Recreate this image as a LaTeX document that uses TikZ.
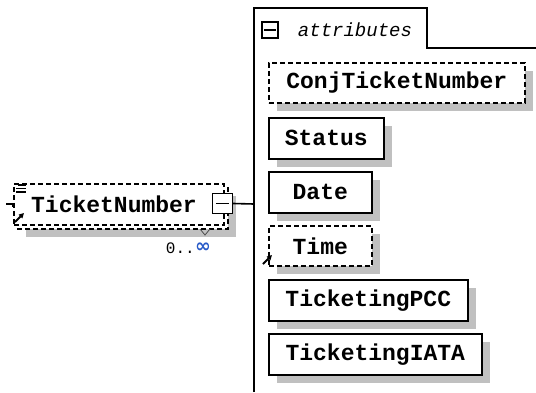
\documentclass[tikz,border=0pt]{standalone}
\usepackage{fontspec}
\setmonofont{Liberation Mono}
\newfontfamily\symfont{DejaVu Sans}
\usetikzlibrary{shadows,arrows.meta}
\definecolor{shadowc}{RGB}{192,192,192}
\definecolor{infblue}{RGB}{40,90,200}
\begin{document}
\begin{tikzpicture}[x=1pt,y=-1pt,
  boxline/.style={draw=black, line width=1.6pt},
  dashline/.style={boxline, dash pattern=on 5pt off 3pt},
  shadowed/.style={drop shadow={shadow xshift=8pt, shadow yshift=-8pt, fill=shadowc, opacity=1}},
  elem/.style={boxline, fill=white, shadowed, anchor=north west, inner sep=0pt,
    font=\ttfamily\bfseries\fontsize{23}{23}\selectfont},
  optelem/.style={elem, dash pattern=on 5pt off 3pt},
  lbl/.style={inner sep=0pt, font=\ttfamily\bfseries\fontsize{23}{23}\selectfont},
  minusbox/.style={draw=black, line width=1.4pt, fill=white, inner sep=0pt},
  icon/.style={line width=1.2pt, black},
  refarrow/.style={line width=1.8pt, -{Triangle[length=5pt,width=5pt]}},
]
\useasboundingbox (0,0) rectangle (536,392);

% attributes panel
\draw[boxline] (254,392) -- (254,8) -- (427,8) -- (427,48) -- (536,48);
\coordinate (pl) at (254,204);
\node[minusbox, minimum size=16pt] (attrminus) at (270,30) {};
\draw[line width=1.4pt] ([xshift=3pt]attrminus.west) -- ([xshift=-3pt]attrminus.east);
\node[inner sep=0pt, font=\ttfamily\itshape\fontsize{19}{19}\selectfont] (attrlbl) at (355,30) {attributes};

% attribute elements
\node[optelem, minimum width=256pt, minimum height=40pt] (conj) at (268,62) {ConjTicketNumber};
\node[elem, minimum width=115pt, minimum height=41pt] (status) at (268,117) {Status};
\node[elem, minimum width=103pt, minimum height=41pt] (date) at (268,171) {Date};
\node[optelem, minimum width=103pt, minimum height=40pt] (time) at (268,225) {Time};
\node[elem, minimum width=199pt, minimum height=41pt] (pcc) at (268,279) {TicketingPCC};
\node[elem, minimum width=213pt, minimum height=41pt] (iata) at (268,333) {TicketingIATA};
\draw[refarrow] (263,264) -- (272,255);

% TicketNumber element (multiple occurrence: back copy + front box)
\draw[dashline, fill=white, shadowed] (18,188) rectangle (228,229);
\node[dashline, fill=white, anchor=north west, minimum width=210pt, minimum height=41pt, inner sep=0pt] (tnbox) at (13,183) {};
\node[lbl] (tn) at (114,204) {TicketNumber};
\draw[icon] (18,185) -- (26,185) (16,188.5) -- (26,188.5) (16,192) -- (26,192);
\draw[refarrow] (15,222) -- (24,213);
\draw[line width=0.8pt, black!70] (200,229) -- (205,235) -- (210,229);

% collapse box and connector
\node[minusbox, minimum size=20pt] (tnminus) at (222.5,203.5) {};
\draw[line width=1.4pt] ([xshift=4pt]tnminus.west) -- ([xshift=-4pt]tnminus.east);
\draw[boxline] (tnminus.east) -- (pl);

% incoming stub
\coordinate (in) at (6,204);
\draw[line width=1.4pt] (in) -- (tnbox.west |- in) -- ++(0,3);

% occurrence
\node[inner sep=0pt, anchor=east, font=\ttfamily\fontsize{16}{16}\selectfont] (occ) at (195,248) {0..};
\node[inner sep=0pt, anchor=west, text=infblue, font=\symfont\bfseries\fontsize{19}{19}\selectfont] (inf) at (occ.east) {∞};
\end{tikzpicture}
\end{document}
